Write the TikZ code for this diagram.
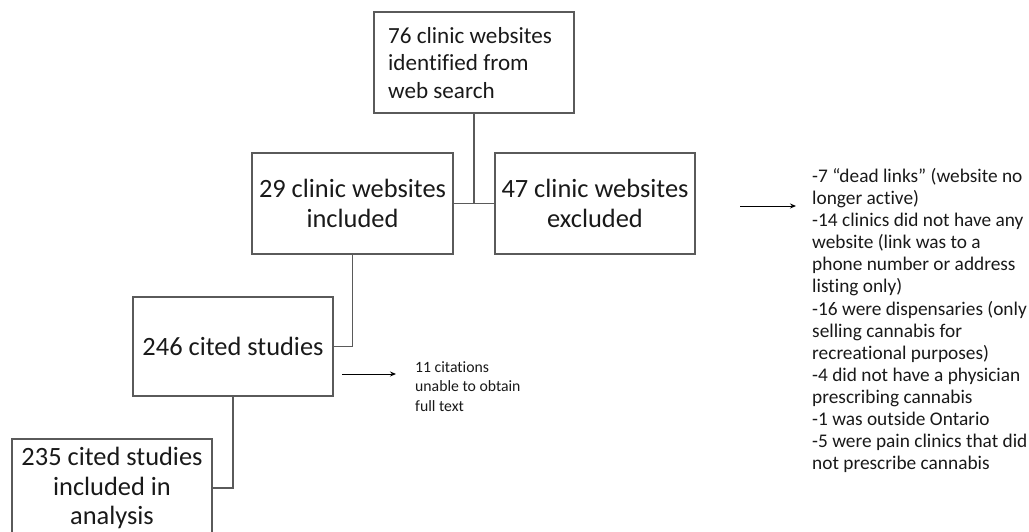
\documentclass[tikz,border=0pt]{standalone}
\usepackage{fontspec}
\setmainfont{Carlito}[Ligatures=NoCommon]
\usetikzlibrary{arrows.meta}
\definecolor{boxline}{RGB}{90,90,90}
\definecolor{txt}{RGB}{25,25,25}
\tikzset{
  fbox/.style={draw=boxline, line width=1.2bp, minimum width=200bp, minimum height=100bp,
    inner sep=0pt, align=center, text=txt, font=\fontsize{26.5}{30}\selectfont},
  conn/.style={draw=boxline, line width=1.2bp},
  arr/.style={draw=black, line width=0.9bp, -{Stealth[length=6bp,width=5bp]}},
  note/.style={inner sep=0pt, align=left, anchor=north west, text=txt}
}
\begin{document}
\begin{tikzpicture}[x=1bp,y=-1bp]
\useasboundingbox (0,0) rectangle (1029,532);
\clip (0,0) rectangle (1029,532);
% boxes
\node[fbox, minimum width=200bp, minimum height=101bp] (web) at (474,62.5) {};
\node[note, font=\fontsize{23.2}{27.5}\selectfont] (webtxt) at (388,27)
  {76 clinic websites\\identified from\\web search};
\node[fbox, minimum width=201bp, minimum height=101bp] (inc) at (352.5,203.5)
  {29 clinic websites\\included};
\node[fbox, minimum width=200bp, minimum height=101bp] (exc) at (595,203.5)
  {47 clinic websites\\excluded};
\node[fbox, minimum width=200bp, minimum height=99bp] (cited) at (233,346.5)
  {246 cited studies};
\node[fbox, minimum width=200bp, minimum height=98bp] (final) at (112,488)
  {235 cited studies\\included in\\analysis};
% notes
\node[note, font=\fontsize{15.8}{20}\selectfont] (miss) at (415,361)
  {11 citations\\unable to obtain\\full text};
\node[note, font=\fontsize{19.4}{22.2}\selectfont] (why) at (812,168)
  {-7 “dead links” (website no\\longer active)\\-14 clinics did not have any\\website (link was to a\\phone number or address\\listing only)\\-16 were dispensaries (only\\selling cannabis for\\recreational purposes)\\-4 did not have a physician\\prescribing cannabis\\-1 was outside Ontario\\-5 were pain clinics that did\\not prescribe cannabis};
% connectors
\coordinate (split) at (web.south |- inc.east);
\draw[conn] (web.south) -- (split);
\draw[conn] (inc.east) -- (exc.west);
\draw[conn] (inc.south) |- (cited.east);
\draw[conn] (cited.south) |- (final.east);
% arrows
\coordinate (a1s) at (342,374);
\coordinate (a1e) at (396,374);
\draw[arr] (a1s) -- (a1e);
\coordinate (a2s) at (740,206);
\coordinate (a2e) at (796,206);
\draw[arr] (a2s) -- (a2e);
\end{tikzpicture}
\end{document}
